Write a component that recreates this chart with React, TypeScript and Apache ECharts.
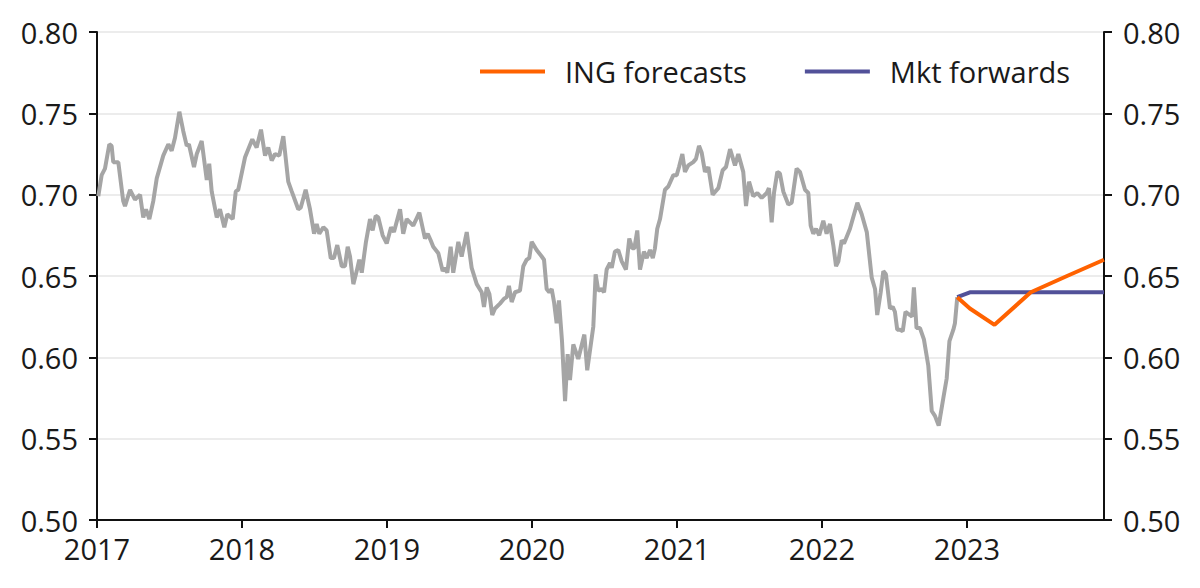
import React, { useEffect, useRef } from "react";
import * as echarts from "echarts";

// Spot history (decimal years) and values
const spotTime: number[] = [
  2017.009, 2017.032, 2017.055, 2017.085, 2017.101, 2017.112, 2017.147, 2017.181, 2017.193, 2017.228,
  2017.262, 2017.297, 2017.319, 2017.338, 2017.361, 2017.388, 2017.412, 2017.457, 2017.492, 2017.515,
  2017.538, 2017.568, 2017.595, 2017.619, 2017.634, 2017.669, 2017.688, 2017.722, 2017.757, 2017.774,
  2017.791, 2017.826, 2017.848, 2017.878, 2017.899, 2017.936, 2017.957, 2017.974, 2018.021, 2018.071,
  2018.101, 2018.131, 2018.159, 2018.181, 2018.205, 2018.228, 2018.257, 2018.285, 2018.319, 2018.343,
  2018.388, 2018.405, 2018.439, 2018.469, 2018.497, 2018.515, 2018.533, 2018.561, 2018.584, 2018.612,
  2018.634, 2018.657, 2018.688, 2018.71, 2018.729, 2018.745, 2018.768, 2018.791, 2018.809, 2018.826,
  2018.855, 2018.883, 2018.901, 2018.922, 2018.94, 2018.97, 2018.998, 2019.028, 2019.048, 2019.09,
  2019.112, 2019.136, 2019.181, 2019.223, 2019.262, 2019.281, 2019.301, 2019.319, 2019.354, 2019.384,
  2019.4, 2019.416, 2019.439, 2019.457, 2019.492, 2019.515, 2019.55, 2019.584, 2019.619, 2019.653,
  2019.669, 2019.688, 2019.706, 2019.726, 2019.745, 2019.779, 2019.807, 2019.826, 2019.841, 2019.86,
  2019.883, 2019.917, 2019.94, 2019.963, 2019.981, 2019.998, 2020.032, 2020.067, 2020.083, 2020.101,
  2020.119, 2020.136, 2020.152, 2020.17, 2020.186, 2020.207, 2020.228, 2020.246, 2020.262, 2020.285,
  2020.319, 2020.361, 2020.381, 2020.423, 2020.439, 2020.457, 2020.481, 2020.497, 2020.515, 2020.538,
  2020.55, 2020.572, 2020.595, 2020.619, 2020.648, 2020.671, 2020.692, 2020.706, 2020.726, 2020.745,
  2020.772, 2020.791, 2020.814, 2020.833, 2020.848, 2020.864, 2020.883, 2020.917, 2020.94, 2020.975,
  2020.998, 2021.014, 2021.037, 2021.055, 2021.078, 2021.112, 2021.131, 2021.152, 2021.17, 2021.193,
  2021.216, 2021.246, 2021.285, 2021.315, 2021.338, 2021.366, 2021.4, 2021.423, 2021.457, 2021.476,
  2021.497, 2021.526, 2021.554, 2021.584, 2021.619, 2021.634, 2021.653, 2021.669, 2021.692, 2021.71,
  2021.733, 2021.768, 2021.791, 2021.825, 2021.848, 2021.883, 2021.906, 2021.922, 2021.94, 2021.959,
  2021.981, 2022.009, 2022.032, 2022.055, 2022.078, 2022.097, 2022.113, 2022.136, 2022.152, 2022.193,
  2022.244, 2022.274, 2022.309, 2022.343, 2022.366, 2022.381, 2022.405, 2022.423, 2022.441, 2022.469,
  2022.488, 2022.503, 2022.519, 2022.538, 2022.557, 2022.576, 2022.607, 2022.621, 2022.634, 2022.652,
  2022.676, 2022.703, 2022.733, 2022.757, 2022.779, 2022.805, 2022.837, 2022.86, 2022.879, 2022.906,
  2022.917, 2022.933,
];
const spotValues: number[] = [
  0.699, 0.712, 0.716, 0.731, 0.73, 0.72, 0.72, 0.696, 0.693, 0.703,
  0.697, 0.7, 0.686, 0.691, 0.685, 0.696, 0.71, 0.724, 0.731, 0.727,
  0.735, 0.751, 0.739, 0.73, 0.731, 0.717, 0.725, 0.733, 0.709, 0.719,
  0.702, 0.686, 0.691, 0.68, 0.688, 0.685, 0.702, 0.703, 0.723, 0.734,
  0.729, 0.74, 0.724, 0.729, 0.721, 0.725, 0.724, 0.736, 0.708, 0.702,
  0.691, 0.692, 0.703, 0.691, 0.676, 0.682, 0.676, 0.68, 0.678, 0.661,
  0.661, 0.669, 0.656, 0.656, 0.668, 0.662, 0.645, 0.653, 0.66, 0.652,
  0.671, 0.685, 0.678, 0.687, 0.686, 0.675, 0.67, 0.68, 0.677, 0.691,
  0.676, 0.685, 0.681, 0.689, 0.673, 0.676, 0.672, 0.668, 0.664, 0.653,
  0.655, 0.652, 0.668, 0.652, 0.671, 0.662, 0.677, 0.655, 0.645, 0.64,
  0.631, 0.643, 0.639, 0.626, 0.63, 0.633, 0.636, 0.637, 0.644, 0.634,
  0.64, 0.641, 0.656, 0.66, 0.661, 0.671, 0.666, 0.662, 0.66, 0.642,
  0.64, 0.642, 0.634, 0.621, 0.635, 0.61, 0.573, 0.602, 0.586, 0.608,
  0.599, 0.614, 0.592, 0.619, 0.651, 0.641, 0.642, 0.64, 0.654, 0.658,
  0.655, 0.665, 0.666, 0.659, 0.654, 0.673, 0.667, 0.667, 0.678, 0.654,
  0.665, 0.661, 0.666, 0.661, 0.667, 0.679, 0.685, 0.703, 0.705, 0.712,
  0.712, 0.717, 0.725, 0.714, 0.718, 0.72, 0.722, 0.73, 0.726, 0.714,
  0.717, 0.7, 0.704, 0.715, 0.717, 0.728, 0.718, 0.725, 0.714, 0.693,
  0.708, 0.699, 0.701, 0.698, 0.701, 0.704, 0.683, 0.701, 0.714, 0.713,
  0.702, 0.694, 0.695, 0.716, 0.714, 0.703, 0.701, 0.681, 0.676, 0.679,
  0.675, 0.684, 0.676, 0.682, 0.669, 0.656, 0.659, 0.672, 0.67, 0.679,
  0.695, 0.688, 0.677, 0.649, 0.642, 0.626, 0.64, 0.653, 0.651, 0.63,
  0.631, 0.628, 0.617, 0.617, 0.616, 0.628, 0.626, 0.625, 0.643, 0.618,
  0.618, 0.611, 0.595, 0.567, 0.564, 0.558, 0.575, 0.587, 0.61, 0.617,
  0.621, 0.637,
];

// Forecast horizon
const forecastTime: number[] = [2022.933, 2023.02, 2023.19, 2023.44, 2023.69, 2023.945];
const ingForecasts: number[] = [0.637, 0.63, 0.62, 0.64, 0.65, 0.66];
const mktForwards: number[] = [0.637, 0.64, 0.64, 0.64, 0.64, 0.64];

const xMin = 2017;
const xMax = 2023.945;
const yTicks = { min: 0.5, max: 0.8, interval: 0.05 };

const FONT = "'Open Sans', 'Noto Sans', sans-serif";
const TEXT = "#1a1a1a";
const AXIS = "#111111";

const zip = (t: number[], v: number[]) => t.map((x, i) => [x, v[i]]);

export default function App() {
  const ref = useRef<HTMLDivElement>(null);

  useEffect(() => {
    if (!ref.current) return;
    const chart = echarts.init(ref.current, undefined, { renderer: "svg" });

    const yAxisCommon = {
      type: "value" as const,
      min: yTicks.min,
      max: yTicks.max,
      interval: yTicks.interval,
      axisLine: { show: true, lineStyle: { color: AXIS, width: 2 } },
      axisTick: { show: true, inside: false, length: 8, lineStyle: { color: AXIS, width: 2 } },
      axisLabel: {
        margin: 19,
        color: TEXT,
        fontSize: 29,
        fontFamily: FONT,
        formatter: (v: number) => v.toFixed(2),
      },
    };

    chart.setOption({
      animation: false,
      backgroundColor: "#ffffff",
      textStyle: { fontFamily: FONT },
      grid: { left: 97, right: 96, top: 32, bottom: 68, containLabel: false },
      legend: {
        left: 475,
        top: 52,
        itemWidth: 65,
        itemHeight: 4,
        itemGap: 58,
        icon: "rect",
        data: ["ING forecasts", "Mkt forwards"],
        textStyle: { fontSize: 29, color: TEXT, fontFamily: FONT, padding: [0, 0, 0, 15] },
      },
      xAxis: {
        type: "value",
        min: xMin,
        max: xMax,
        interval: 1,
        splitLine: { show: false },
        axisLine: { show: true, onZero: false, lineStyle: { color: AXIS, width: 2 } },
        axisTick: { show: true, length: 8, lineStyle: { color: AXIS, width: 2 } },
        axisLabel: {
          margin: 14,
          color: TEXT,
          fontSize: 29,
          fontFamily: FONT,
          showMaxLabel: false,
          formatter: (v: number) =>
            Math.abs(v - Math.round(v)) < 1e-6 ? String(Math.round(v)) : "",
        },
      },
      yAxis: [
        {
          ...yAxisCommon,
          position: "left",
          splitLine: { show: true, lineStyle: { color: "#ececec", width: 2 } },
        },
        {
          ...yAxisCommon,
          position: "right",
          splitLine: { show: false },
        },
      ],
      series: [
        {
          name: "Spot",
          type: "line",
          data: zip(spotTime, spotValues),
          showSymbol: false,
          symbol: "none",
          lineStyle: { color: "#a5a5a5", width: 4 },
          itemStyle: { color: "#a5a5a5" },
          z: 2,
        },
        {
          name: "Mkt forwards",
          type: "line",
          data: zip(forecastTime, mktForwards),
          showSymbol: false,
          symbol: "none",
          lineStyle: { color: "#525199", width: 4 },
          itemStyle: { color: "#525199" },
          z: 3,
        },
        {
          name: "ING forecasts",
          type: "line",
          data: zip(forecastTime, ingForecasts),
          showSymbol: false,
          symbol: "none",
          lineStyle: { color: "#ff6200", width: 4 },
          itemStyle: { color: "#ff6200" },
          z: 4,
        },
      ],
    });

    return () => chart.dispose();
  }, []);

  return (
    <div
      ref={ref}
      style={{ position: "fixed", left: 0, top: 0, width: 1200, height: 588, background: "#fff" }}
    />
  );
}
